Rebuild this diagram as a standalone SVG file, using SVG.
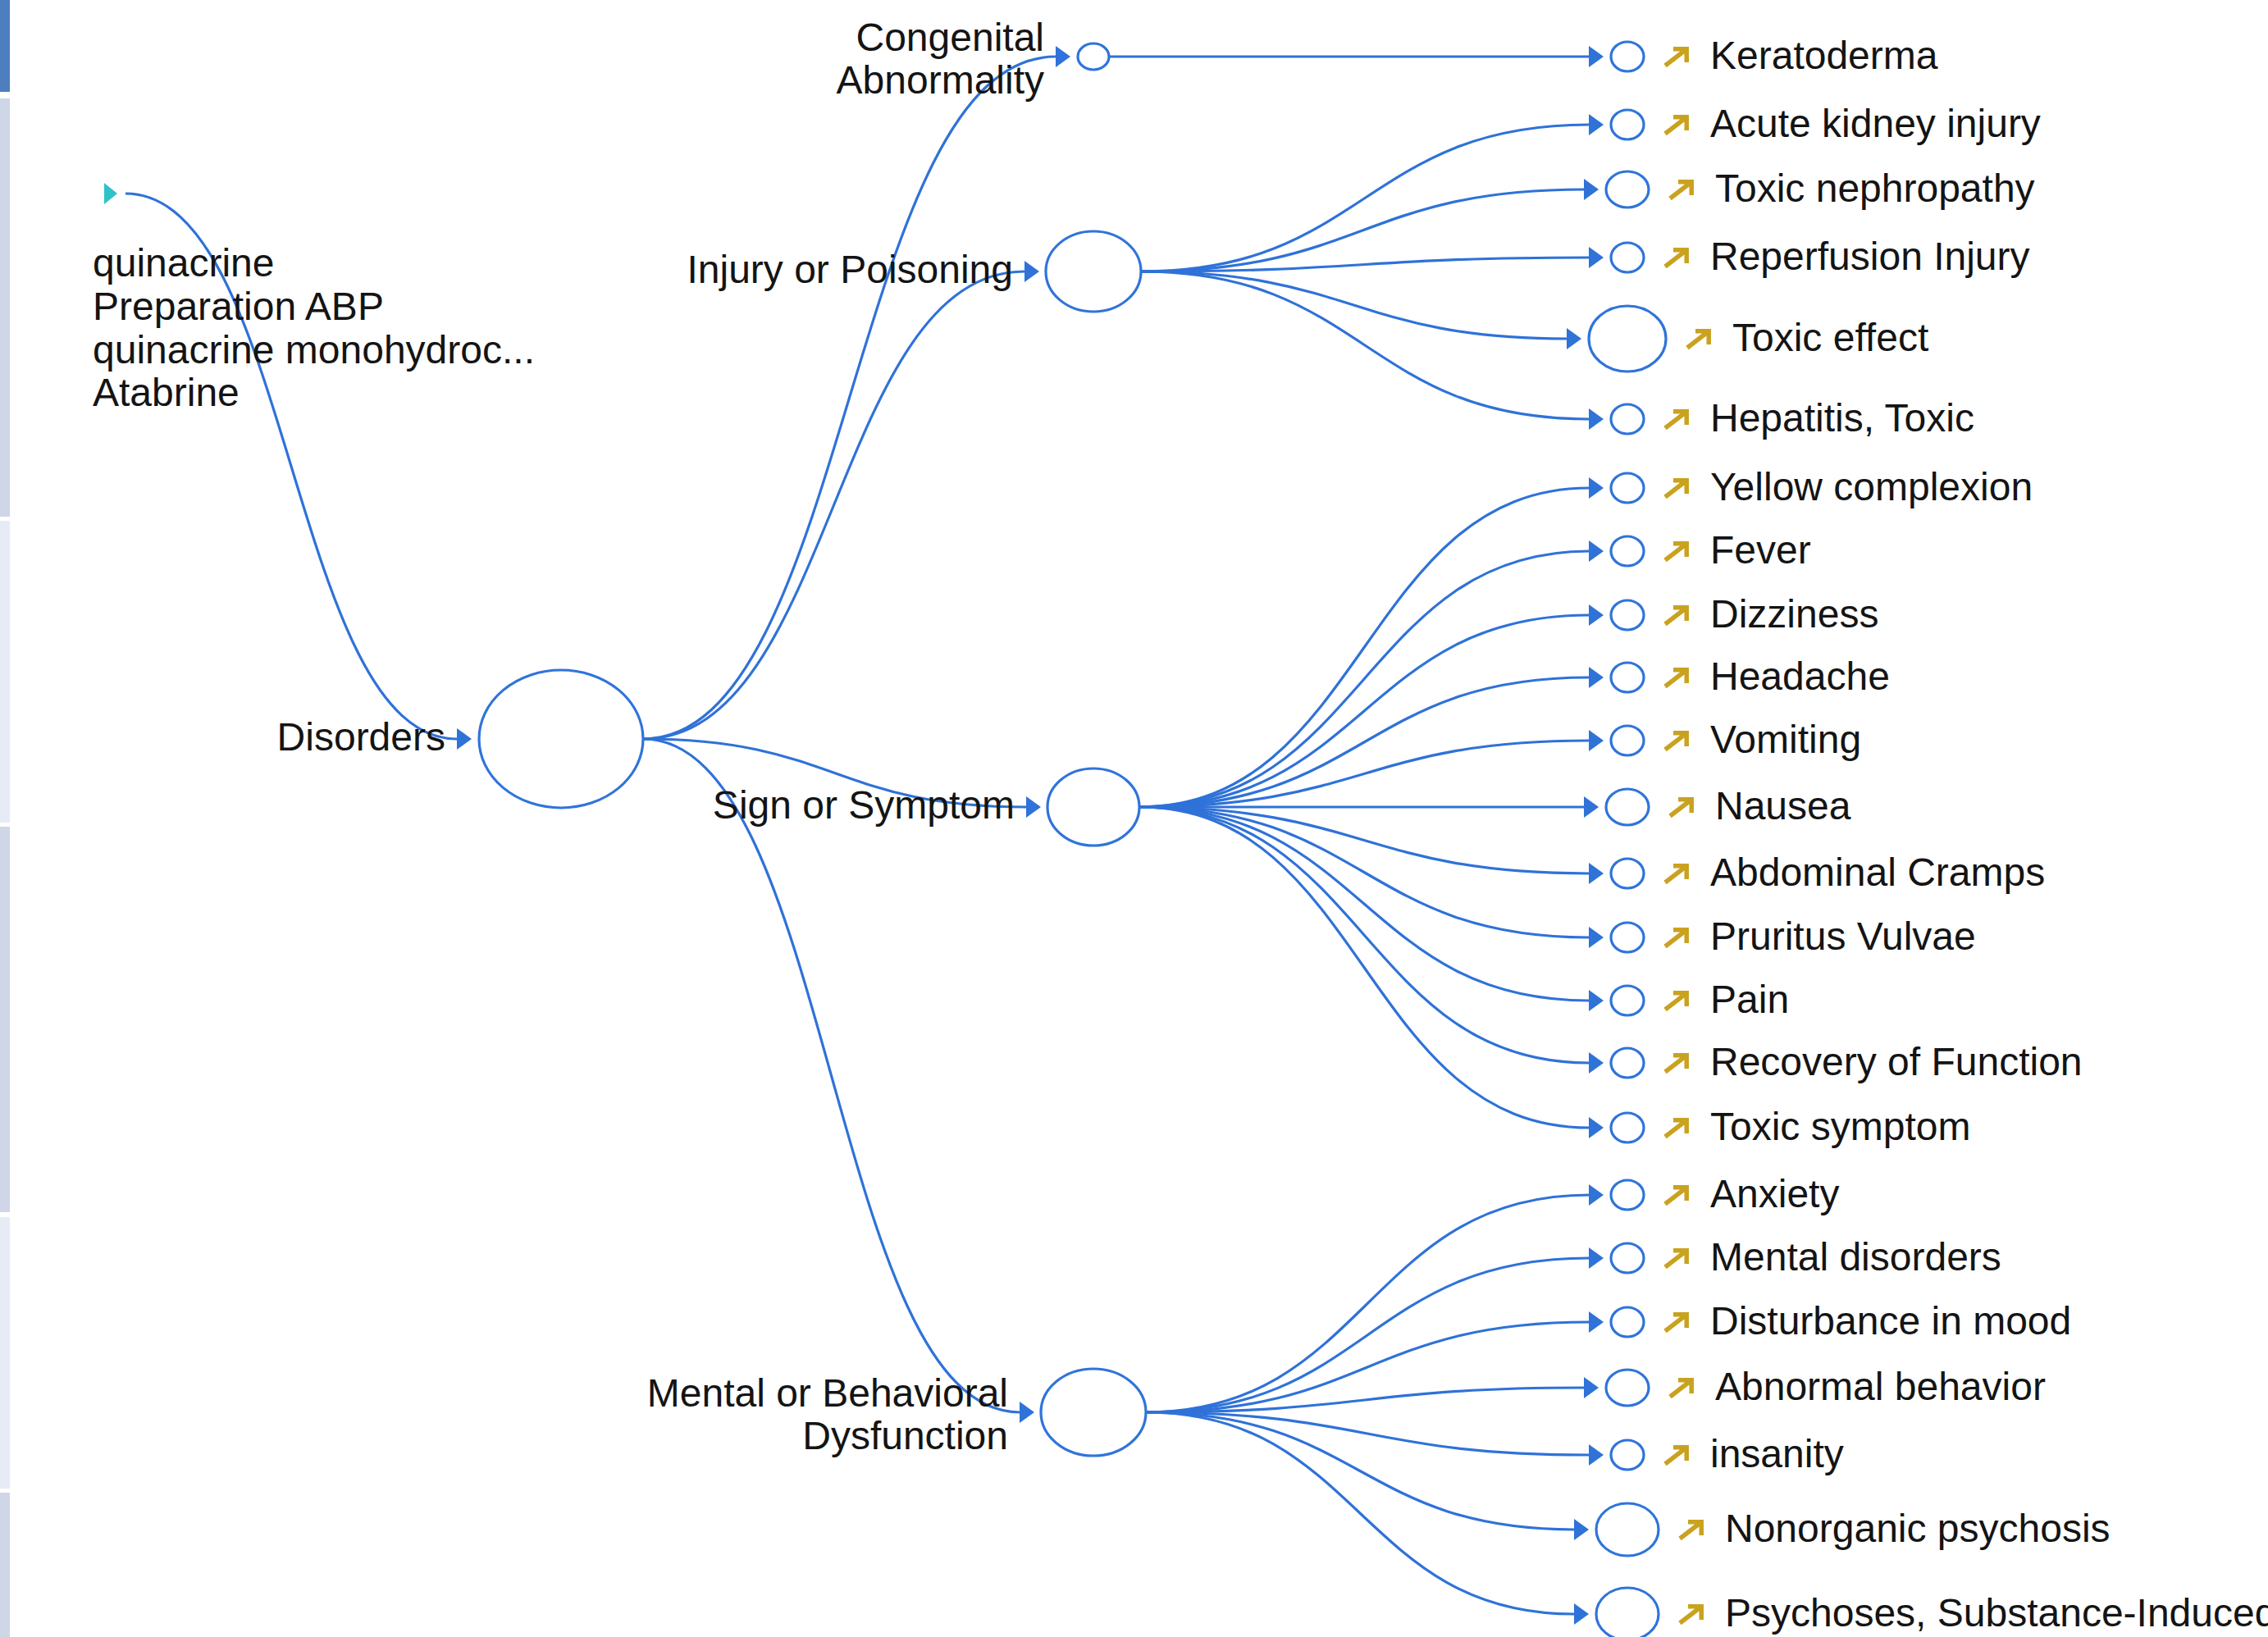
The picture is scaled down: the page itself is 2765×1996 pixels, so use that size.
<svg xmlns="http://www.w3.org/2000/svg" xmlns:xlink="http://www.w3.org/1999/xlink" width="2765" height="1996" viewBox="0 0 2765 1996">
<style>
.lbl{font-family:"Liberation Sans",Arial,Helvetica,sans-serif;font-size:48px;fill:#141414}
.end{text-anchor:end}
.nd{fill:#fff;stroke:#2f74da;stroke-width:3.2}
.lk{fill:none;stroke:#2f72d8;stroke-width:3.2}
.ext{fill:none;stroke:#c9a21f;stroke-width:5.5}
</style>
<defs>
<marker id="ah" markerUnits="userSpaceOnUse" markerWidth="18" markerHeight="26" refX="0" refY="13" orient="auto" viewBox="0 0 18 26">
<path d="M0,0 L18,13 L0,26 Z" fill="#2f72d8"/>
</marker>
<g id="go"><path class="ext" d="M2,23 L28,3 M12,2.8 H28.2 V19"/></g>
</defs>
<rect width="2765" height="1996" fill="#fff"/>
<g id="sidebar">
<rect x="0" y="0" width="12" height="112" fill="#4d7fc0"/>
<rect x="0" y="120" width="12" height="510" fill="#cfd6e7"/>
<rect x="0" y="635" width="12" height="368" fill="#e7ebf5"/>
<rect x="0" y="1008" width="12" height="470" fill="#cfd6e7"/>
<rect x="0" y="1484" width="12" height="331" fill="#e7ebf5"/>
<rect x="0" y="1820" width="12" height="176" fill="#cfd6e7"/>
</g>
<g id="connectors" class="lk">
<path class="lk" d="M153,236 C355,236 355,901 557,901" marker-end="url(#ah)"/>
<path class="lk" d="M784,901 C1035.5,901 1035.5,69 1287,69" marker-end="url(#ah)"/>
<path class="lk" d="M784,901 C1016.5,901 1016.5,331 1249,331" marker-end="url(#ah)"/>
<path class="lk" d="M784,901 C1017.5,901 1017.5,984 1251,984" marker-end="url(#ah)"/>
<path class="lk" d="M784,901 C1013.5,901 1013.5,1722 1243,1722" marker-end="url(#ah)"/>
<path class="lk" d="M1353,69 L1937,69" marker-end="url(#ah)"/>
<path class="lk" d="M1391,331 C1664,331 1664,152 1937,152" marker-end="url(#ah)"/>
<path class="lk" d="M1391,331 C1661,331 1661,231 1931,231" marker-end="url(#ah)"/>
<path class="lk" d="M1391,331 C1664,331 1664,314 1937,314" marker-end="url(#ah)"/>
<path class="lk" d="M1391,331 C1650.5,331 1650.5,413 1910,413" marker-end="url(#ah)"/>
<path class="lk" d="M1391,331 C1664,331 1664,511 1937,511" marker-end="url(#ah)"/>
<path class="lk" d="M1389,984 C1663,984 1663,595 1937,595" marker-end="url(#ah)"/>
<path class="lk" d="M1389,984 C1663,984 1663,672 1937,672" marker-end="url(#ah)"/>
<path class="lk" d="M1389,984 C1663,984 1663,750 1937,750" marker-end="url(#ah)"/>
<path class="lk" d="M1389,984 C1663,984 1663,826 1937,826" marker-end="url(#ah)"/>
<path class="lk" d="M1389,984 C1663,984 1663,903 1937,903" marker-end="url(#ah)"/>
<path class="lk" d="M1389,984 L1931,984" marker-end="url(#ah)"/>
<path class="lk" d="M1389,984 C1663,984 1663,1065 1937,1065" marker-end="url(#ah)"/>
<path class="lk" d="M1389,984 C1663,984 1663,1143 1937,1143" marker-end="url(#ah)"/>
<path class="lk" d="M1389,984 C1663,984 1663,1220 1937,1220" marker-end="url(#ah)"/>
<path class="lk" d="M1389,984 C1663,984 1663,1296 1937,1296" marker-end="url(#ah)"/>
<path class="lk" d="M1389,984 C1663,984 1663,1375 1937,1375" marker-end="url(#ah)"/>
<path class="lk" d="M1397,1722 C1667,1722 1667,1457 1937,1457" marker-end="url(#ah)"/>
<path class="lk" d="M1397,1722 C1667,1722 1667,1534 1937,1534" marker-end="url(#ah)"/>
<path class="lk" d="M1397,1722 C1667,1722 1667,1612 1937,1612" marker-end="url(#ah)"/>
<path class="lk" d="M1397,1722 C1664,1722 1664,1692 1931,1692" marker-end="url(#ah)"/>
<path class="lk" d="M1397,1722 C1667,1722 1667,1774 1937,1774" marker-end="url(#ah)"/>
<path class="lk" d="M1397,1722 C1658,1722 1658,1865 1919,1865" marker-end="url(#ah)"/>
<path class="lk" d="M1397,1722 C1658,1722 1658,1968 1919,1968" marker-end="url(#ah)"/>
</g>
<g id="n-quinacrine">
<path d="M127,223 L143,236 L127,249 Z" fill="#2ec3c8"/>
<text class="lbl" x="113" y="337">quinacrine</text>
<text class="lbl" x="113" y="390">Preparation ABP</text>
<text class="lbl" x="113" y="443">quinacrine monohydroc...</text>
<text class="lbl" x="113" y="495">Atabrine</text>
</g>
<g id="n-disorders">
<ellipse class="nd" cx="684" cy="901" rx="100" ry="84"/>
<text class="lbl end" x="543" y="915">Disorders</text>
</g>
<g id="n-congenital">
<ellipse class="nd" cx="1333" cy="69" rx="19" ry="16"/>
<text class="lbl end" x="1273" y="62">Congenital</text>
<text class="lbl end" x="1273" y="114">Abnormality</text>
</g>
<g id="n-injury">
<ellipse class="nd" cx="1333" cy="331" rx="58" ry="49"/>
<text class="lbl end" x="1235" y="345">Injury or Poisoning</text>
</g>
<g id="n-sign">
<ellipse class="nd" cx="1333" cy="984" rx="56" ry="47"/>
<text class="lbl end" x="1237" y="998">Sign or Symptom</text>
</g>
<g id="n-mental">
<ellipse class="nd" cx="1333" cy="1722" rx="64" ry="53"/>
<text class="lbl end" x="1229" y="1715">Mental or Behavioral</text>
<text class="lbl end" x="1229" y="1767">Dysfunction</text>
</g>
<g id="n-keratoderma"><ellipse class="nd" cx="1984" cy="69" rx="20" ry="18"/><use xlink:href="#go" x="2028" y="57"/><text class="lbl" x="2085" y="84">Keratoderma</text></g>
<g id="n-acute-kidney-injury"><ellipse class="nd" cx="1984" cy="152" rx="20" ry="18"/><use xlink:href="#go" x="2028" y="140"/><text class="lbl" x="2085" y="167">Acute kidney injury</text></g>
<g id="n-toxic-nephropathy"><ellipse class="nd" cx="1984" cy="231" rx="26" ry="22"/><use xlink:href="#go" x="2034" y="219"/><text class="lbl" x="2091" y="246">Toxic nephropathy</text></g>
<g id="n-reperfusion-injury"><ellipse class="nd" cx="1984" cy="314" rx="20" ry="18"/><use xlink:href="#go" x="2028" y="302"/><text class="lbl" x="2085" y="329">Reperfusion Injury</text></g>
<g id="n-toxic-effect"><ellipse class="nd" cx="1984" cy="413" rx="47" ry="40"/><use xlink:href="#go" x="2055" y="401"/><text class="lbl" x="2112" y="428">Toxic effect</text></g>
<g id="n-hepatitis-toxic"><ellipse class="nd" cx="1984" cy="511" rx="20" ry="18"/><use xlink:href="#go" x="2028" y="499"/><text class="lbl" x="2085" y="526">Hepatitis, Toxic</text></g>
<g id="n-yellow-complexion"><ellipse class="nd" cx="1984" cy="595" rx="20" ry="18"/><use xlink:href="#go" x="2028" y="583"/><text class="lbl" x="2085" y="610">Yellow complexion</text></g>
<g id="n-fever"><ellipse class="nd" cx="1984" cy="672" rx="20" ry="18"/><use xlink:href="#go" x="2028" y="660"/><text class="lbl" x="2085" y="687">Fever</text></g>
<g id="n-dizziness"><ellipse class="nd" cx="1984" cy="750" rx="20" ry="18"/><use xlink:href="#go" x="2028" y="738"/><text class="lbl" x="2085" y="765">Dizziness</text></g>
<g id="n-headache"><ellipse class="nd" cx="1984" cy="826" rx="20" ry="18"/><use xlink:href="#go" x="2028" y="814"/><text class="lbl" x="2085" y="841">Headache</text></g>
<g id="n-vomiting"><ellipse class="nd" cx="1984" cy="903" rx="20" ry="18"/><use xlink:href="#go" x="2028" y="891"/><text class="lbl" x="2085" y="918">Vomiting</text></g>
<g id="n-nausea"><ellipse class="nd" cx="1984" cy="984" rx="26" ry="22"/><use xlink:href="#go" x="2034" y="972"/><text class="lbl" x="2091" y="999">Nausea</text></g>
<g id="n-abdominal-cramps"><ellipse class="nd" cx="1984" cy="1065" rx="20" ry="18"/><use xlink:href="#go" x="2028" y="1053"/><text class="lbl" x="2085" y="1080">Abdominal Cramps</text></g>
<g id="n-pruritus-vulvae"><ellipse class="nd" cx="1984" cy="1143" rx="20" ry="18"/><use xlink:href="#go" x="2028" y="1131"/><text class="lbl" x="2085" y="1158">Pruritus Vulvae</text></g>
<g id="n-pain"><ellipse class="nd" cx="1984" cy="1220" rx="20" ry="18"/><use xlink:href="#go" x="2028" y="1208"/><text class="lbl" x="2085" y="1235">Pain</text></g>
<g id="n-recovery-of-function"><ellipse class="nd" cx="1984" cy="1296" rx="20" ry="18"/><use xlink:href="#go" x="2028" y="1284"/><text class="lbl" x="2085" y="1311">Recovery of Function</text></g>
<g id="n-toxic-symptom"><ellipse class="nd" cx="1984" cy="1375" rx="20" ry="18"/><use xlink:href="#go" x="2028" y="1363"/><text class="lbl" x="2085" y="1390">Toxic symptom</text></g>
<g id="n-anxiety"><ellipse class="nd" cx="1984" cy="1457" rx="20" ry="18"/><use xlink:href="#go" x="2028" y="1445"/><text class="lbl" x="2085" y="1472">Anxiety</text></g>
<g id="n-mental-disorders"><ellipse class="nd" cx="1984" cy="1534" rx="20" ry="18"/><use xlink:href="#go" x="2028" y="1522"/><text class="lbl" x="2085" y="1549">Mental disorders</text></g>
<g id="n-disturbance-in-mood"><ellipse class="nd" cx="1984" cy="1612" rx="20" ry="18"/><use xlink:href="#go" x="2028" y="1600"/><text class="lbl" x="2085" y="1627">Disturbance in mood</text></g>
<g id="n-abnormal-behavior"><ellipse class="nd" cx="1984" cy="1692" rx="26" ry="22"/><use xlink:href="#go" x="2034" y="1680"/><text class="lbl" x="2091" y="1707">Abnormal behavior</text></g>
<g id="n-insanity"><ellipse class="nd" cx="1984" cy="1774" rx="20" ry="18"/><use xlink:href="#go" x="2028" y="1762"/><text class="lbl" x="2085" y="1789">insanity</text></g>
<g id="n-nonorganic-psychosis"><ellipse class="nd" cx="1984" cy="1865" rx="38" ry="32"/><use xlink:href="#go" x="2046" y="1853"/><text class="lbl" x="2103" y="1880">Nonorganic psychosis</text></g>
<g id="n-psychoses-substance-induced"><ellipse class="nd" cx="1984" cy="1968" rx="38" ry="32"/><use xlink:href="#go" x="2046" y="1956"/><text class="lbl" x="2103" y="1983">Psychoses, Substance-Induced</text></g>
</svg>
